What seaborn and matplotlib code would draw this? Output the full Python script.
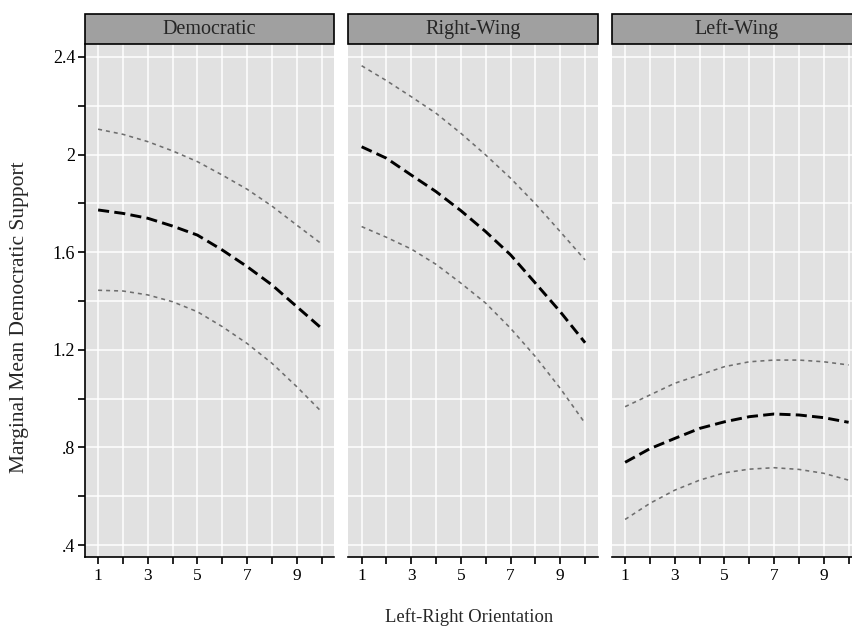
import pandas as pd
import seaborn as sns
import matplotlib.pyplot as plt
from matplotlib.patches import Rectangle

regimes = ["Democratic", "Right-Wing", "Left-Wing"]
lr = [1, 2, 3, 4, 5, 6, 7, 8, 9, 10]

# marginal means and 95% bounds
dem_mean = [1.773, 1.759, 1.739, 1.707, 1.670, 1.609, 1.541, 1.466, 1.377, 1.288]
dem_upper = [2.104, 2.083, 2.053, 2.015, 1.971, 1.916, 1.858, 1.789, 1.711, 1.634]
dem_lower = [1.444, 1.441, 1.425, 1.397, 1.356, 1.295, 1.226, 1.145, 1.049, 0.946]

rw_mean = [2.032, 1.985, 1.916, 1.848, 1.770, 1.684, 1.589, 1.473, 1.356, 1.229]
rw_upper = [2.364, 2.303, 2.237, 2.169, 2.087, 1.998, 1.903, 1.798, 1.684, 1.568]
rw_lower = [1.705, 1.661, 1.613, 1.550, 1.473, 1.391, 1.288, 1.172, 1.042, 0.899]

lw_mean = [0.739, 0.795, 0.837, 0.878, 0.905, 0.926, 0.937, 0.933, 0.922, 0.903]
lw_upper = [0.967, 1.015, 1.063, 1.097, 1.131, 1.151, 1.158, 1.158, 1.151, 1.138]
lw_lower = [0.505, 0.571, 0.625, 0.666, 0.696, 0.711, 0.717, 0.710, 0.694, 0.666]

x_ticks = [1, 2, 3, 4, 5, 6, 7, 8, 9, 10]
x_labels = ["1", "", "3", "", "5", "", "7", "", "9", ""]
y_ticks = [0.4, 0.6, 0.8, 1.0, 1.2, 1.4, 1.6, 1.8, 2.0, 2.2, 2.4]
y_labels = [".4", "", ".8", "", "1.2", "", "1.6", "", "2", "", "2.4"]

series = {
    "Democratic": {"mean": dem_mean, "upper": dem_upper, "lower": dem_lower},
    "Right-Wing": {"mean": rw_mean, "upper": rw_upper, "lower": rw_lower},
    "Left-Wing": {"mean": lw_mean, "upper": lw_upper, "lower": lw_lower},
}
rows = []
for reg, bands in series.items():
    for band, vals in bands.items():
        for x, v in zip(lr, vals):
            rows.append({"regime": reg, "band": band, "lr": x, "support": v})
df = pd.DataFrame(rows)

sns.set_style("darkgrid", {"axes.facecolor": "#E1E1E1", "grid.color": "white",
                           "axes.edgecolor": "black"})
plt.rcParams["font.family"] = ["Liberation Serif", "DejaVu Serif"]

g = sns.relplot(
    data=df, x="lr", y="support", col="regime", col_order=regimes,
    hue="band", style="band", size="band",
    palette={"mean": "black", "upper": "#6E6E6E", "lower": "#6E6E6E"},
    dashes={"mean": (3.8, 1.8), "upper": (2.5, 2.5), "lower": (2.5, 2.5)},
    sizes={"mean": 2.1, "upper": 1.15, "lower": 1.15},
    kind="line", legend=False, facet_kws={"sharey": True, "sharex": True},
)

fig = g.figure
fig.set_size_inches(8.53, 6.27)
fig.subplots_adjust(left=0.0996, right=1.0094, bottom=0.1116, top=0.9298, wspace=0.058)

for i, (ax, title) in enumerate(zip(g.axes.flat, regimes)):
    ax.set_title("")
    ax.set_xlabel("")
    ax.set_ylabel("")
    ax.set_xlim(0.47, 10.5)
    ax.set_ylim(0.351, 2.453)
    ax.set_xticks(x_ticks)
    ax.set_xticklabels(x_labels, fontsize=12.5)
    ax.set_yticks(y_ticks)
    ax.set_yticklabels(y_labels, fontsize=13)
    ax.grid(True, color="white", linewidth=1.1)
    ax.set_axisbelow(True)
    for s in ["top", "right"]:
        ax.spines[s].set_visible(False)
    ax.spines["bottom"].set_visible(True)
    ax.spines["bottom"].set_linewidth(1.2)
    ax.spines["left"].set_visible(i == 0)
    ax.spines["left"].set_linewidth(1.2)
    ax.tick_params(axis="x", bottom=True, length=5, width=1.2, color="black",
                   direction="out", pad=3, labelcolor="black")
    ax.tick_params(axis="y", left=(i == 0), length=5, width=1.2, color="black",
                   direction="out", pad=2, labelcolor="black", labelleft=(i == 0))
    strip = Rectangle((0, 1), 1, 0.0585, transform=ax.transAxes,
                      facecolor="#A0A0A0", edgecolor="black", linewidth=1.2,
                      clip_on=False)
    ax.add_patch(strip)
    ax.text(0.5, 1.029, title, transform=ax.transAxes, ha="center", va="center",
            fontsize=14.5)

fig.text(469 / 853, 1 - 617 / 627, "Left-Right Orientation", ha="center",
         va="center", fontsize=13.4)
fig.text(20 / 853, 1 - 317 / 627, "Marginal Mean Democratic Support", ha="center",
         va="center", rotation=90, fontsize=15.5)

fig.savefig("out.png", dpi=100)
